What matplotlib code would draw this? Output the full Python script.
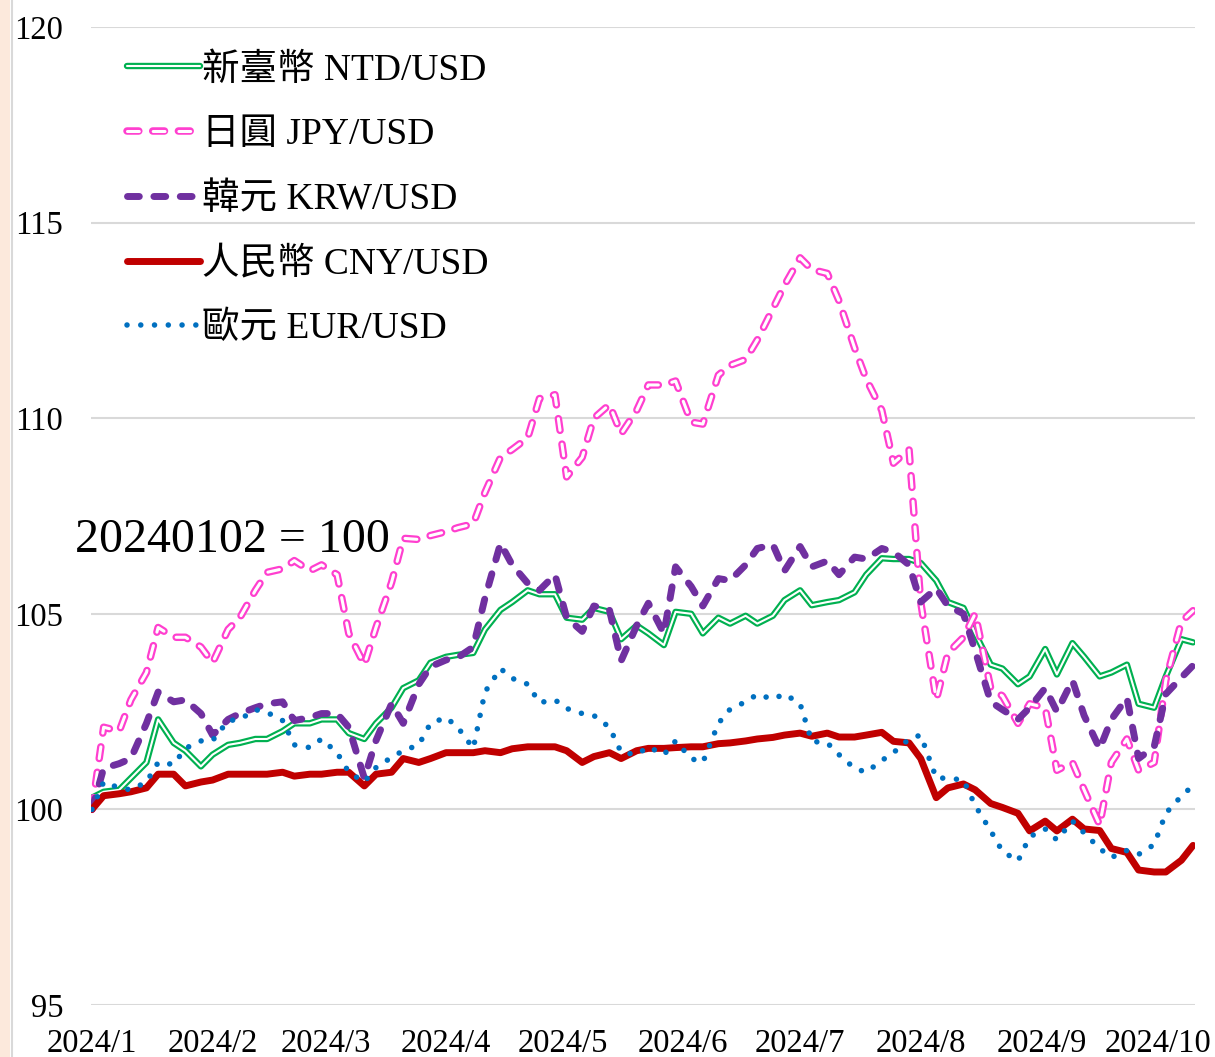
import matplotlib
matplotlib.use("Agg")
import matplotlib.pyplot as plt
import matplotlib.patheffects as pe
from matplotlib.patches import Rectangle
from matplotlib.lines import Line2D
import pandas as pd

plt.rcParams['font.family'] = ['Liberation Serif', 'Noto Sans CJK TC', 'DejaVu Sans']
plt.rcParams['lines.scale_dashes'] = False

# Trading-date sample grid (Tuesdays and Fridays), 2024-01-02 .. 2024-10-11
dates = sorted(list(pd.date_range('2024-01-02', '2024-10-11', freq='W-TUE')) +
               list(pd.date_range('2024-01-02', '2024-10-11', freq='W-FRI')))

ntd = [100.3, 100.45, 100.5, 100.8, 101.2, 102.3, 101.7, 101.5, 101.1, 101.4,
       101.65, 101.7, 101.8, 101.8, 102.0, 102.2, 102.2, 102.3, 102.3, 101.95,
       101.8, 102.2, 102.6, 103.1, 103.3, 103.75, 103.9, 103.95, 104.0, 104.6,
       105.1, 105.3, 105.6, 105.5, 105.5, 104.9, 104.85, 105.15, 105.05, 104.35,
       104.7, 104.5, 104.2, 105.05, 105.0, 104.5, 104.9, 104.75, 104.95, 104.75,
       104.95, 105.35, 105.6, 105.22, 105.3, 105.35, 105.55, 106.0, 106.42, 106.4,
       106.4, 106.3, 105.85, 105.3, 105.15, 104.5, 103.7, 103.6, 103.2, 103.4,
       104.1, 103.45, 104.25, 103.9, 103.4, 103.5, 103.7, 102.7, 102.6, 103.4,
       104.35, 104.27]

jpy = [100.0, 102.1, 102.0, 102.8, 103.5, 104.65, 104.4, 104.4, 104.15, 103.75,
       104.6, 104.9, 105.6, 106.06, 106.15, 106.36, 106.1, 106.25, 106.0, 104.5,
       103.7, 104.65, 105.8, 106.93, 106.9, 107.0, 107.1, 107.2, 107.3, 108.1,
       109.0, 109.2, 109.5, 110.5, 110.6, 108.5, 109.0, 110.0, 110.35, 109.6,
       110.2, 110.85, 110.85, 110.95, 109.9, 109.85, 111.1, 111.35, 111.5, 112.0,
       112.8, 113.4, 114.1, 113.8, 113.7, 113.0, 111.8, 111.0, 110.2, 108.85,
       109.2, 105.3, 102.8, 104.0, 104.4, 105.0, 103.1, 102.9, 102.2, 102.7,
       102.6, 101.0, 101.2, 100.5, 99.6, 101.2, 101.8, 101.0, 101.2, 103.3,
       104.8, 105.08]

krw = [100.0, 101.05, 101.17, 101.3, 102.2, 103.0, 102.75, 102.8, 102.45, 101.9,
       102.3, 102.45, 102.6, 102.7, 102.75, 102.27, 102.35, 102.45, 102.45, 102.1,
       100.8, 101.76, 102.7, 102.2, 103.2, 103.65, 103.82, 103.88, 104.15, 105.4,
       106.8, 106.25, 105.78, 105.6, 106.0, 104.9, 104.55, 105.2, 105.1, 103.8,
       104.7, 105.27, 104.5, 106.2, 105.7, 105.2, 105.9, 105.85, 106.25, 106.67,
       106.77, 106.1, 106.72, 106.2, 106.35, 106.0, 106.45, 106.4, 106.67, 106.58,
       106.25, 105.3, 105.65, 105.2, 105.0, 104.05, 102.75, 102.55, 102.3, 102.6,
       103.1, 102.5, 103.3, 102.4, 101.55, 102.3, 102.85, 101.3, 101.6, 102.95,
       103.37, 103.68]

cny = [100.0, 100.35, 100.4, 100.45, 100.55, 100.9, 100.9, 100.6, 100.7, 100.75,
       100.9, 100.9, 100.9, 100.9, 100.95, 100.85, 100.9, 100.9, 100.95, 100.95,
       100.6, 100.9, 100.95, 101.3, 101.2, 101.3, 101.45, 101.45, 101.45, 101.5,
       101.45, 101.55, 101.6, 101.6, 101.6, 101.5, 101.2, 101.35, 101.45, 101.3,
       101.5, 101.56, 101.56, 101.58, 101.6, 101.6, 101.68, 101.7, 101.75, 101.8,
       101.84, 101.9, 101.95, 101.87, 101.95, 101.85, 101.85, 101.9, 101.97, 101.74,
       101.7, 101.3, 100.3, 100.55, 100.65, 100.5, 100.15, 100.05, 99.9, 99.45,
       99.7, 99.45, 99.75, 99.5, 99.46, 99.0, 98.9, 98.45, 98.4, 98.4,
       98.7, 99.08]

eur = [100.0, 100.7, 100.55, 100.5, 100.7, 101.2, 101.15, 101.56, 101.75, 101.76,
       102.27, 102.3, 102.55, 102.48, 102.27, 101.65, 101.58, 101.8, 101.45, 100.95,
       100.7, 101.07, 101.33, 101.5, 101.65, 102.2, 102.35, 102.1, 101.56, 103.0,
       103.6, 103.35, 103.2, 102.73, 102.8, 102.58, 102.45, 102.4, 102.1, 101.46,
       101.4, 101.6, 101.4, 101.75, 101.3, 101.2, 102.2, 102.56, 102.75, 102.94,
       102.82, 102.95, 102.7, 101.74, 101.7, 101.4, 101.05, 100.95, 101.25, 101.45,
       101.8, 101.9, 100.8, 100.8, 100.75, 100.1, 99.45, 98.93, 98.68, 99.3,
       99.5, 99.22, 99.7, 99.4, 99.0, 98.77, 98.95, 98.85, 99.1, 99.9,
       100.34, 100.61]

labels = ['新臺幣 NTD/USD', '日圓 JPY/USD', '韓元 KRW/USD', '人民幣 CNY/USD', '歐元 EUR/USD']
tick_months = ['2024-01-02', '2024-02-02', '2024-03-02', '2024-04-02', '2024-05-02',
               '2024-06-02', '2024-07-02', '2024-08-02', '2024-09-02', '2024-10-02']
tick_labels = ['2024/1', '2024/2', '2024/3', '2024/4', '2024/5',
               '2024/6', '2024/7', '2024/8', '2024/9', '2024/10']
yticks = [95, 100, 105, 110, 115, 120]

W, H = 1215, 1057
fig = plt.figure(figsize=(W / 100, H / 100), dpi=100)
ax = fig.add_axes([91 / W, 1 - 1005 / H, (1195 - 91) / W, (1005 - 27) / H])

# left decorative strip
fig.patches.append(Rectangle((0, 0), 10 / W, 1, transform=fig.transFigure,
                             facecolor='#FCE9DC', edgecolor='none', zorder=0))
fig.add_artist(Line2D([11.5 / W, 11.5 / W], [0, 1], transform=fig.transFigure,
                      color='#D9D9D9', lw=1.5))

green = '#00B050'
pink = '#FF3FCF'
purple = '#7030A0'
red = '#C00000'
blue = '#0070C0'

ax.plot(dates, ntd, color='white', lw=1.5, solid_joinstyle='round', solid_capstyle='round',
        path_effects=[pe.Stroke(linewidth=4.6, foreground=green), pe.Normal()],
        label=labels[0], zorder=3)
ax.plot(dates, jpy, color='white', lw=2.2, linestyle=(0, (8.5, 10)),
        dash_capstyle='round', dash_joinstyle='round',
        path_effects=[pe.Stroke(linewidth=5.4, foreground=pink), pe.Normal()],
        label=labels[1], zorder=4)
ax.plot(dates, krw, color=purple, lw=5.0, linestyle=(0, (8.5, 10.5)),
        dash_capstyle='round', dash_joinstyle='round', label=labels[2], zorder=5)
ax.plot(dates, cny, color=red, lw=5.0, solid_joinstyle='round', solid_capstyle='round',
        label=labels[3], zorder=6)
ax.plot(dates, eur, color=blue, lw=4.0, linestyle=(0, (0.01, 9.9)),
        dash_capstyle='round', label=labels[4], zorder=7)

ax.set_ylim(95, 120)
ax.set_yticks(yticks)
ax.set_xlim(pd.Timestamp('2024-01-01 18:00'), pd.Timestamp('2024-10-11 12:00'))
ax.set_xticks([pd.Timestamp(t) for t in tick_months])
ax.set_xticklabels(tick_labels)
ax.tick_params(axis='both', length=0, labelsize=23.5, colors='black')
ax.tick_params(axis='y', pad=20)
ax.tick_params(axis='x', pad=17)
ax.grid(axis='y', color='#D9D9D9', lw=1.5)
ax.grid(axis='x', visible=False)
ax.set_axisbelow(True)
for s in ax.spines.values():
    s.set_visible(False)

leg = ax.legend(loc='upper left', bbox_to_anchor=(127 / W, 1 - 53 / H),
                bbox_transform=fig.transFigure, frameon=False, fontsize=27,
                handlelength=1.95, handletextpad=0.06, labelspacing=0.8,
                borderpad=0, borderaxespad=0)

fig.text(75 / W, 1 - 540 / H, '20240102 = 100', fontsize=34.5, ha='left', va='center')

fig.savefig('out.png', dpi=100, facecolor='white')
